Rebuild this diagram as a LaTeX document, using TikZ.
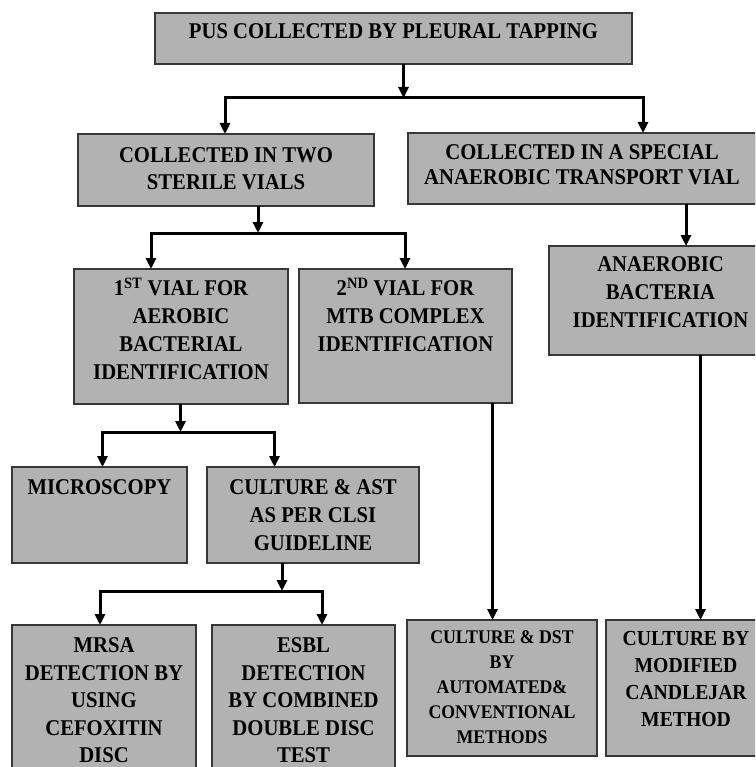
\documentclass[tikz,border=0pt]{standalone}
\usepackage{fontspec}
\setmainfont{Liberation Serif}[FakeStretch=0.92]
\usetikzlibrary{arrows.meta}
\definecolor{boxfill}{RGB}{178,178,178}
\definecolor{boxline}{RGB}{55,55,55}
\newcommand\boxtxt[6]{\parbox[c][#2pt][t]{#1pt}{\centering\fontsize{#3pt}{#4pt}\selectfont\bfseries\vspace*{#5pt}#6\par}}
\newcommand\sups[1]{\smash{\textsuperscript{#1}}}
\tikzset{
  bx/.style={draw=boxline, fill=boxfill, line width=1.5pt, inner sep=0pt, outer sep=0pt, rectangle},
  conn/.style={line width=3pt, line join=miter, draw=black},
  arr/.style={conn, -{Triangle[width=10pt,length=11pt]}}
}
\begin{document}
\begin{tikzpicture}[x=1pt,y=-1pt]
\useasboundingbox (0,0) rectangle (755,767);
\fill[white] (0,0) rectangle (755,767);
\clip (0,0) rectangle (755,767);

% boxes
\node[bx] (top) at (393.5,38.5) {\boxtxt{477}{51}{22.5}{27}{11}{PUS COLLECTED BY PLEURAL TAPPING}};
\node[bx] (sterile) at (226,170) {\boxtxt{296}{72}{22.5}{27}{14}{COLLECTED IN TWO\\STERILE VIALS}};
\node[bx] (special) at (582,168.5) {\boxtxt{348}{71}{22.5}{25}{12}{COLLECTED IN A SPECIAL\\ANAEROBIC TRANSPORT VIAL}};
\node[bx] (first) at (181,336.5) {\boxtxt{214}{135}{22.5}{28}{12}{1\sups{ST} VIAL FOR\\AEROBIC\\BACTERIAL\\IDENTIFICATION}};
\node[bx] (second) at (405.5,336) {\boxtxt{213}{134}{22.5}{28}{12}{2\sups{ND} VIAL FOR\\MTB COMPLEX\\IDENTIFICATION}};
\node[bx] (anaer) at (660.5,300.5) {\boxtxt{223}{109}{22.5}{28}{11}{ANAEROBIC\\BACTERIA\\IDENTIFICATION}};
\node[bx] (micro) at (99.5,515) {\boxtxt{175}{96}{22.5}{28}{13}{MICROSCOPY}};
\node[bx] (cultast) at (313,515) {\boxtxt{212}{96}{22.5}{28}{13}{CULTURE \& AST\\AS PER CLSI\\GUIDELINE}};
\node[bx] (mrsa) at (104,712.5) {\boxtxt{184}{175}{22.5}{27.5}{13}{MRSA\\DETECTION BY\\USING\\CEFOXITIN\\DISC}};
\node[bx] (esbl) at (303.5,712.5) {\boxtxt{183}{175}{22.5}{27.5}{13}{ESBL\\DETECTION\\BY COMBINED\\DOUBLE DISC\\TEST}};
\node[bx] (dst) at (502,688) {\boxtxt{190}{136}{19.3}{25}{11}{CULTURE \& DST\\BY\\AUTOMATED\&\\CONVENTIONAL\\METHODS}};
\node[bx] (candle) at (686,688) {\boxtxt{160}{136}{21.4}{27}{11.5}{CULTURE BY\\MODIFIED\\CANDLEJAR\\METHOD}};

% junctions
\coordinate (j1) at (403.5,98);
\coordinate (b1l) at (225,98);
\coordinate (b1r) at (643,98);
\coordinate (j2) at (258,233);
\coordinate (b2l) at (151,233);
\coordinate (b2r) at (405,233);
\coordinate (j3) at (180.5,432);
\coordinate (b3l) at (102.5,432);
\coordinate (b3r) at (274.5,432);
\coordinate (j4) at (282,591);
\coordinate (b4l) at (100,591);
\coordinate (b4r) at (322,591);
\coordinate (c5) at (686,0);
\coordinate (c6) at (492.5,0);
\coordinate (c7) at (700.5,0);

% level 1
\draw[arr] (top.south -| j1) -- (j1);
\draw[arr] (b1r) -- (b1l) -- (b1l |- sterile.north);
\draw[arr] (b1l) -- (b1r) -- (b1r |- special.north);
% level 2
\draw[arr] (sterile.south -| j2) -- (j2);
\draw[arr] (b2r) -- (b2l) -- (b2l |- first.north);
\draw[arr] (b2l) -- (b2r) -- (b2r |- second.north);
\draw[arr] (special.south -| c5) -- (anaer.north -| c5);
% level 3
\draw[arr] (first.south -| j3) -- (j3);
\draw[arr] (b3r) -- (b3l) -- (b3l |- micro.north);
\draw[arr] (b3l) -- (b3r) -- (b3r |- cultast.north);
\draw[arr] (second.south -| c6) -- (dst.north -| c6);
\draw[arr] (anaer.south -| c7) -- (candle.north -| c7);
% level 4
\draw[arr] (cultast.south -| j4) -- (j4);
\draw[arr] (b4r) -- (b4l) -- (b4l |- mrsa.north);
\draw[arr] (b4l) -- (b4r) -- (b4r |- esbl.north);
\end{tikzpicture}
\end{document}
